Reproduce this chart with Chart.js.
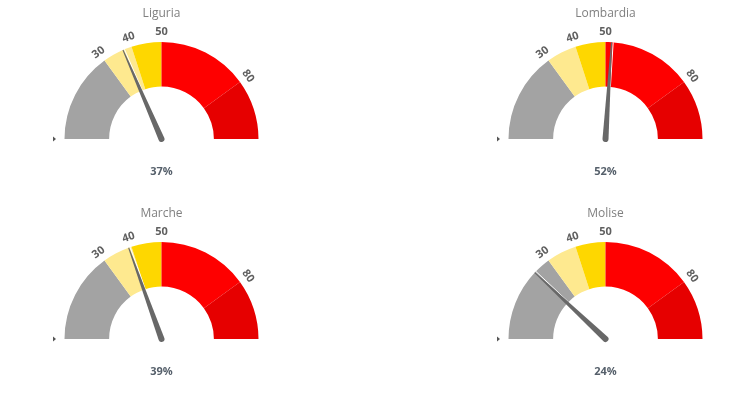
<!DOCTYPE html>
<html>
<head>
<meta charset="utf-8">
<script src="https://cdn.jsdelivr.net/npm/chart.js"></script>
<style>
  body { margin: 0; background: #fff; }
  #wrap { position: relative; width: 741px; height: 401px; }
  canvas { position: absolute; }
</style>
</head>
<body>
<div id="wrap">
  <canvas id="g0" width="370" height="200" style="left:0;top:0"></canvas>
  <canvas id="g1" width="371" height="200" style="left:370px;top:0"></canvas>
  <canvas id="g2" width="370" height="200" style="left:0;top:200px"></canvas>
  <canvas id="g3" width="371" height="200" style="left:370px;top:200px"></canvas>
</div>
<script>
// dati
const regions = ["Liguria", "Lombardia", "Marche", "Molise"];
const values = [37, 52, 39, 24];
const bandLimits = [0, 30, 40, 50, 80, 100];
const bandColors = ["#a3a3a3", "#fee98f", "#fed700", "#fe0000", "#e60000"];
const tickLabels = [30, 40, 50, 80];

// fasce del gauge, spezzate nel punto del valore
const buildSegments = (v) => {
  const data = [];
  const colors = [];
  for (let i = 0; i < bandLimits.length - 1; i++) {
    const a = bandLimits[i];
    const b = bandLimits[i + 1];
    if (v > a && v < b) {
      data.push(v - a, b - v);
      colors.push(bandColors[i], bandColors[i]);
    } else {
      data.push(b - a);
      colors.push(bandColors[i]);
    }
  }
  return { data, colors };
};

const valAngle = (v) => Math.PI + (v / 100) * Math.PI;

// testo, tacche e lancetta
const gaugePlugin = {
  id: "gauge",
  afterDatasetsDraw(chart, args, opts) {
    const ctx = chart.ctx;
    const arc = chart.getDatasetMeta(0).data[0];
    const cx = arc.x;
    const cy = arc.y;
    const R = arc.outerRadius;
    const r = arc.innerRadius;
    const v = opts.value;

    ctx.save();
    // titolo
    ctx.textAlign = "center";
    ctx.textBaseline = "middle";
    ctx.fillStyle = "#808080";
    ctx.font = "12px 'Open Sans'";
    ctx.fillText(opts.title, cx, cy - 125);

    // etichette delle soglie
    ctx.fillStyle = "#5f5f5f";
    ctx.font = "bold 11px 'Open Sans'";
    tickLabels.forEach((t) => {
      const a = valAngle(t);
      ctx.save();
      ctx.translate(cx + (R + 10) * Math.cos(a), cy + (R + 10) * Math.sin(a));
      ctx.rotate(a + Math.PI / 2);
      ctx.fillText(String(t), 0, 0);
      ctx.restore();
    });

    // valore
    ctx.fillStyle = "#56606b";
    ctx.font = "bold 11px 'Open Sans'";
    ctx.fillText(v + "%", cx, cy + 33);

    // piccolo triangolo a sinistra
    ctx.fillStyle = "#555";
    const tx = cx - R - 11.5;
    ctx.beginPath();
    ctx.moveTo(tx, cy - 2.5);
    ctx.lineTo(tx + 3, cy);
    ctx.lineTo(tx, cy + 2.5);
    ctx.closePath();
    ctx.fill();

    // lancetta
    const a = valAngle(v);
    const dx = Math.cos(a);
    const dy = Math.sin(a);
    const nx = -dy;
    const ny = dx;
    // linea bianca lungo la lancetta
    ctx.strokeStyle = "#fff";
    ctx.lineWidth = 1;
    ctx.beginPath();
    ctx.moveTo(cx + r * dx + 1.6 * nx, cy + r * dy + 1.6 * ny);
    ctx.lineTo(cx + R * dx + 1.6 * nx, cy + R * dy + 1.6 * ny);
    ctx.stroke();

    ctx.fillStyle = "#686868";
    ctx.beginPath();
    ctx.moveTo(cx + R * dx + 0.5 * nx, cy + R * dy + 0.5 * ny);
    ctx.lineTo(cx + 3 * nx, cy + 3 * ny);
    ctx.arc(cx, cy, 3, Math.atan2(ny, nx), Math.atan2(ny, nx) + Math.PI, false);
    ctx.lineTo(cx + R * dx - 0.5 * nx, cy + R * dy - 0.5 * ny);
    ctx.closePath();
    ctx.fill();
    ctx.restore();
  },
};

const makeGauge = (id, idx, padLeft, padRight) => {
  const seg = buildSegments(values[idx]);
  new Chart(document.getElementById(id), {
    type: "doughnut",
    data: {
      labels: seg.data.map((d, i) => i),
      datasets: [
        {
          data: seg.data,
          backgroundColor: seg.colors,
          borderWidth: 0,
        },
      ],
    },
    options: {
      responsive: false,
      animation: false,
      devicePixelRatio: 1,
      rotation: -90,
      circumference: 180,
      cutout: "54%",
      radius: 97,
      layout: { padding: { left: padLeft, right: padRight, top: 42, bottom: 61 } },
      plugins: {
        legend: { display: false },
        tooltip: { enabled: false },
        gauge: { title: regions[idx], value: values[idx] },
      },
    },
    plugins: [gaugePlugin],
  });
};

makeGauge("g0", 0, 0, 47);
makeGauge("g1", 1, 100, 0);
makeGauge("g2", 2, 0, 47);
makeGauge("g3", 3, 100, 0);
</script>
</body>
</html>
